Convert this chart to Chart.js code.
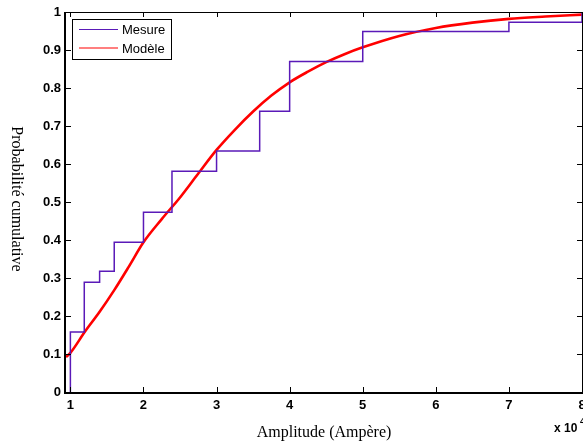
<!DOCTYPE html>
<html>
<head>
<meta charset="utf-8">
<script src="https://cdn.jsdelivr.net/npm/chart.js@4.4.1/dist/chart.umd.min.js"></script>
<style>
    html, body { margin: 0; padding: 0; background: #fff; }
    #wrap { width: 583px; height: 444px; }
</style>
</head>
<body>
<div id="wrap"><canvas id="cdfChart"></canvas></div>
<script>
// Mesure: fonction de répartition empirique (marches)
const mesureX = [1.0, 1.0, 1.19, 1.40, 1.60, 2.0, 2.39, 3.0, 3.59, 4.0, 5.0, 7.0, 8.0];
const mesureY = [0, 0.158, 0.289, 0.318, 0.394, 0.473, 0.581, 0.634, 0.739, 0.870, 0.949, 0.973, 1.0];

// Modèle: courbe ajustée
const modeleX = [0.94, 1.0, 1.2, 1.4, 1.6, 1.8, 2.0, 2.25, 2.5, 2.75, 3.0, 3.25, 3.5, 3.75, 4.0, 4.25, 4.5, 4.75, 5.0, 5.5, 6.0, 6.5, 7.0, 7.5, 8.0];
const modeleY = [0.092, 0.103, 0.159, 0.211, 0.268, 0.330, 0.394, 0.455, 0.512, 0.575, 0.637, 0.690, 0.738, 0.780, 0.815, 0.843, 0.868, 0.889, 0.907, 0.937, 0.958, 0.972, 0.982, 0.988, 0.993];

const xTicks = [1, 2, 3, 4, 5, 6, 7, 8];
const yTicks = [0, 0.1, 0.2, 0.3, 0.4, 0.5, 0.6, 0.7, 0.8, 0.9, 1];

const seriesLabels = ["Mesure", "Modèle"];
const seriesColors = ["#5a1ab8", "#ff0000"];

const TICK_FONT = { family: "Liberation Sans, Arial, sans-serif", size: 13, weight: "bold" };
const SERIF = "Liberation Serif, Times New Roman, serif";

// MATLAB-like frame: ticks pointing inwards on all four sides, legend box, rotated y title
const matlabFrame = {
    id: "matlabFrame",
    afterDatasetsDraw(chart) {
        const { ctx, chartArea: a, scales } = chart;
        ctx.save();
        ctx.strokeStyle = "#000";

        // thin top & right border
        ctx.lineWidth = 1;
        ctx.beginPath();
        ctx.moveTo(a.left, a.top + 0.5);
        ctx.lineTo(a.right, a.top + 0.5);
        ctx.moveTo(a.right + 0.5, a.top);
        ctx.lineTo(a.right + 0.5, a.bottom);
        ctx.stroke();

        // inward ticks
        const len = 5;
        ctx.beginPath();
        scales.x.ticks.forEach(t => {
            const px = Math.round(scales.x.getPixelForValue(t.value)) + 0.5;
            ctx.moveTo(px, a.bottom); ctx.lineTo(px, a.bottom - len);
            ctx.moveTo(px, a.top); ctx.lineTo(px, a.top + len);
        });
        scales.y.ticks.forEach(t => {
            const py = Math.round(scales.y.getPixelForValue(t.value)) + 0.5;
            ctx.moveTo(a.left, py); ctx.lineTo(a.left + len, py);
            ctx.moveTo(a.right, py); ctx.lineTo(a.right - len, py);
        });
        ctx.stroke();

        // thick left & bottom axes
        ctx.lineWidth = 2;
        ctx.beginPath();
        ctx.moveTo(a.left - 1, a.top);
        ctx.lineTo(a.left - 1, a.bottom + 1);
        ctx.lineTo(a.right + 1, a.bottom + 1);
        ctx.stroke();

        // legend
        const box = { x: 72.5, y: 19.5, w: 99, h: 40 };
        ctx.fillStyle = "#fff";
        ctx.fillRect(box.x, box.y, box.w, box.h);
        ctx.lineWidth = 1;
        ctx.strokeRect(box.x, box.y, box.w, box.h);
        ctx.font = "13px Liberation Sans, Arial, sans-serif";
        ctx.textBaseline = "middle";
        ctx.textAlign = "left";
        chart.data.datasets.forEach((ds, i) => {
            const y = 29.5 + i * 18.5;
            ctx.strokeStyle = ds.borderColor;
            ctx.lineWidth = 1.2;
            ctx.beginPath();
            ctx.moveTo(79, y);
            ctx.lineTo(118, y);
            ctx.stroke();
            ctx.fillStyle = "#000";
            ctx.fillText(ds.label, 122, y + 1);
        });

        // y title, reading top to bottom
        ctx.save();
        ctx.translate(16, (a.top + a.bottom) / 2 - 3);
        ctx.rotate(Math.PI / 2);
        ctx.font = "16px " + SERIF;
        ctx.textAlign = "center";
        ctx.fillStyle = "#000";
        ctx.fillText("Probabilité cumulative", 0, 0);
        ctx.restore();

        // exponent of the x axis
        ctx.font = "bold 12px Liberation Sans, Arial, sans-serif";
        ctx.textAlign = "left";
        ctx.fillStyle = "#000";
        ctx.fillText("x 10", 554, 429);
        ctx.font = "bold 9px Liberation Sans, Arial, sans-serif";
        ctx.fillText("4", 580, 422);

        ctx.restore();
    }
};

new Chart(document.getElementById("cdfChart"), {
    type: "line",
    data: {
        datasets: [
            {
                label: seriesLabels[0],
                data: mesureX.map((x, i) => ({ x, y: mesureY[i] })),
                borderColor: seriesColors[0],
                borderWidth: 1.5,
                stepped: "before",
                pointRadius: 0,
                fill: false
            },
            {
                label: seriesLabels[1],
                data: modeleX.map((x, i) => ({ x, y: modeleY[i] })),
                borderColor: seriesColors[1],
                borderWidth: 2.6,
                cubicInterpolationMode: "monotone",
                pointRadius: 0,
                fill: false
            }
        ]
    },
    options: {
        responsive: true,
        maintainAspectRatio: false,
        animation: false,
        layout: { padding: { top: 12, right: 1, left: 0, bottom: 0 } },
        plugins: {
            legend: { display: false },
            tooltip: { enabled: false }
        },
        scales: {
            x: {
                type: "linear",
                min: 0.94,
                max: 8,
                afterBuildTicks: (scale) => { scale.ticks = xTicks.map(v => ({ value: v })); },
                afterFit: (scale) => { scale.height = 52; scale.paddingLeft = 0; scale.paddingRight = 0; },
                grid: { display: false, drawTicks: false },
                border: { display: false },
                ticks: { font: TICK_FONT, color: "#000", padding: 6, maxRotation: 0, autoSkip: false },
                title: {
                    display: true,
                    text: "Amplitude (Ampère)",
                    color: "#000",
                    font: { family: SERIF, size: 16 },
                    padding: { top: 0, bottom: 2 }
                }
            },
            y: {
                min: 0,
                max: 1,
                afterBuildTicks: (scale) => { scale.ticks = yTicks.map(v => ({ value: v })); },
                afterFit: (scale) => { scale.width = 66; scale.paddingTop = 0; scale.paddingBottom = 0; },
                grid: { display: false, drawTicks: false },
                border: { display: false },
                ticks: { font: TICK_FONT, color: "#000", padding: 5, autoSkip: false,
                    callback: (v) => String(Math.round(v * 10) / 10) }
            }
        }
    },
    plugins: [matlabFrame]
});
</script>
</body>
</html>
